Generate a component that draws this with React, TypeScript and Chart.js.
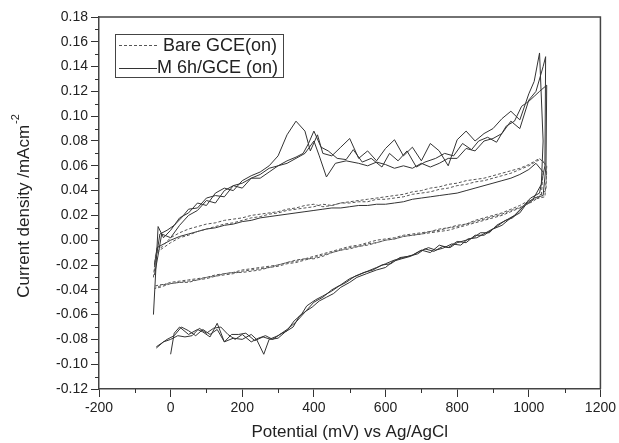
import React, { useEffect, useRef } from "react";
import { Chart, registerables } from "chart.js";

Chart.register(...registerables);

const FONT = "'Liberation Sans', Arial, Helvetica, sans-serif";

const xTitle = "Potential (mV) vs Ag/AgCl";
const yTitleMain = "Current density /mAcm";
const yTitleSup = "-2";
const legendLabels = ["Bare GCE(on)", "M 6h/GCE (on)"];

const xMin = -200;
const xMax = 1200;
const xStep = 200;
const yMin = -0.12;
const yMax = 0.18;
const yStep = 0.02;

type P = [number, number];

// Bare GCE, cycle 1 (dashed)
const bareCycle1: P[] = [
  [-48, -0.030], [-42, -0.012], [-30, -0.008], [0, -0.002], [25, 0.002], [50, 0.004], [75, 0.007],
  [100, 0.009], [125, 0.011], [150, 0.013], [175, 0.014], [200, 0.016], [225, 0.018], [250, 0.019],
  [275, 0.021], [300, 0.022], [325, 0.024], [350, 0.025], [375, 0.026], [400, 0.027], [425, 0.029],
  [450, 0.028], [475, 0.030], [500, 0.030], [525, 0.031], [550, 0.031], [575, 0.033], [600, 0.033],
  [625, 0.034], [650, 0.035], [675, 0.037], [700, 0.038], [725, 0.039], [750, 0.041], [775, 0.042],
  [800, 0.044], [825, 0.045], [850, 0.047], [875, 0.048], [900, 0.050], [925, 0.052], [950, 0.054],
  [975, 0.057], [1000, 0.060], [1030, 0.065], [1045, 0.063], [1050, 0.055], [1045, 0.035],
  [1000, 0.032], [975, 0.028], [950, 0.025], [925, 0.022], [900, 0.020], [875, 0.018], [850, 0.016],
  [825, 0.013], [800, 0.011], [775, 0.010], [750, 0.008], [725, 0.007], [700, 0.006], [675, 0.005],
  [650, 0.004], [625, 0.002], [600, 0.001], [575, 0.000], [550, -0.002], [525, -0.004], [500, -0.005],
  [475, -0.007], [450, -0.009], [425, -0.011], [400, -0.013], [375, -0.015], [350, -0.017],
  [325, -0.018], [300, -0.020], [275, -0.021], [250, -0.022], [225, -0.023], [200, -0.024],
  [175, -0.026], [150, -0.027], [125, -0.028], [100, -0.030], [75, -0.031], [50, -0.032],
  [25, -0.033], [0, -0.034], [-30, -0.037], [-42, -0.038],
];

// Bare GCE, cycle 2 (dashed)
const bareCycle2: P[] = [
  [-45, -0.025], [-40, -0.010], [-20, -0.004], [0, 0.002], [25, 0.006], [50, 0.009], [75, 0.011],
  [100, 0.013], [125, 0.014], [150, 0.016], [175, 0.017], [200, 0.018], [225, 0.020], [250, 0.021],
  [275, 0.022], [300, 0.023], [325, 0.025], [350, 0.026], [375, 0.028], [400, 0.029], [425, 0.027],
  [450, 0.028], [475, 0.030], [500, 0.031], [525, 0.032], [550, 0.033], [575, 0.034], [600, 0.035],
  [625, 0.036], [650, 0.037], [675, 0.039], [700, 0.040], [725, 0.042], [750, 0.043], [775, 0.045],
  [800, 0.046], [825, 0.048], [850, 0.049], [875, 0.050], [900, 0.052], [925, 0.054], [950, 0.056],
  [975, 0.058], [1000, 0.061], [1030, 0.066], [1050, 0.060], [1048, 0.040],
  [1000, 0.030], [975, 0.026], [950, 0.023], [925, 0.020], [900, 0.018], [875, 0.016], [850, 0.014],
  [825, 0.012], [800, 0.010], [775, 0.008], [750, 0.007], [725, 0.006], [700, 0.005], [675, 0.004],
  [650, 0.003], [625, 0.001], [600, 0.000], [575, -0.002], [550, -0.003], [525, -0.005], [500, -0.006],
  [475, -0.008], [450, -0.010], [425, -0.012], [400, -0.014], [375, -0.016], [350, -0.018],
  [325, -0.019], [300, -0.021], [275, -0.022], [250, -0.023], [225, -0.024], [200, -0.025],
  [175, -0.027], [150, -0.028], [125, -0.029], [100, -0.031], [75, -0.032], [50, -0.033],
  [25, -0.034], [0, -0.035], [-30, -0.038], [-45, -0.039],
];

// Bare GCE, cycle 3: forward sweep drawn solid, reverse sweep dashed
const bareCycle3Forward: P[] = [
  [-45, -0.020], [-38, -0.006], [0, 0.000], [25, 0.003], [50, 0.005], [75, 0.007], [100, 0.009],
  [125, 0.010], [150, 0.012], [175, 0.013], [200, 0.015], [225, 0.016], [250, 0.018], [275, 0.019],
  [300, 0.020], [325, 0.021], [350, 0.022], [375, 0.023], [400, 0.024], [425, 0.025], [450, 0.026],
  [475, 0.026], [500, 0.027], [525, 0.028], [550, 0.028], [575, 0.029], [600, 0.029], [625, 0.030],
  [650, 0.031], [675, 0.033], [700, 0.034], [725, 0.035], [750, 0.036], [775, 0.037], [800, 0.038],
  [825, 0.040], [850, 0.042], [875, 0.044], [900, 0.046], [925, 0.048], [950, 0.050], [975, 0.053],
  [1000, 0.057], [1020, 0.062], [1040, 0.055],
];
const bareCycle3Reverse: P[] = [
  [1040, 0.055], [1035, 0.036], [1010, 0.031], [980, 0.027], [950, 0.024], [925, 0.021], [900, 0.019],
  [875, 0.017], [850, 0.015], [825, 0.013], [800, 0.012], [775, 0.010], [750, 0.009], [725, 0.007],
  [700, 0.005], [675, 0.004], [650, 0.003], [625, 0.001], [600, 0.000], [575, -0.002], [550, -0.004],
  [525, -0.005], [500, -0.007], [475, -0.008], [450, -0.010], [425, -0.013], [400, -0.015],
  [375, -0.015], [350, -0.016], [325, -0.018], [300, -0.020], [275, -0.022], [250, -0.024],
  [225, -0.025], [200, -0.026], [175, -0.026], [150, -0.027], [125, -0.029], [100, -0.030],
  [75, -0.032], [50, -0.034], [25, -0.034], [0, -0.035], [-30, -0.036], [-45, -0.037],
];

// M 6h/GCE, cycle 1 (solid)
const m6hCycle1: P[] = [
  [-48, -0.060], [-35, 0.011], [-20, 0.002], [0, 0.008], [25, 0.018], [50, 0.022], [75, 0.030],
  [100, 0.028], [125, 0.038], [150, 0.042], [175, 0.040], [200, 0.048], [225, 0.052], [250, 0.055],
  [275, 0.060], [300, 0.068], [325, 0.085], [350, 0.096], [375, 0.088], [390, 0.072], [410, 0.085],
  [425, 0.070], [450, 0.068], [475, 0.075], [500, 0.082], [525, 0.066], [550, 0.072], [575, 0.064],
  [600, 0.074], [625, 0.081], [650, 0.068], [675, 0.075], [700, 0.064], [725, 0.078], [750, 0.072],
  [775, 0.060], [800, 0.081], [825, 0.088], [850, 0.080], [875, 0.086], [900, 0.090], [925, 0.098],
  [950, 0.104], [975, 0.097], [1000, 0.118], [1015, 0.128], [1030, 0.151], [1040, 0.080],
  [1035, 0.045], [1010, 0.032], [990, 0.028], [975, 0.022], [950, 0.018], [925, 0.012], [900, 0.009],
  [875, 0.004], [850, 0.004], [825, -0.002], [800, -0.001], [775, -0.006], [750, -0.004],
  [725, -0.010], [700, -0.008], [675, -0.012], [650, -0.014], [625, -0.016], [600, -0.019],
  [575, -0.022], [550, -0.025], [525, -0.028], [500, -0.031], [475, -0.036], [450, -0.040],
  [425, -0.046], [400, -0.050], [375, -0.058], [350, -0.066], [325, -0.072], [300, -0.077],
  [275, -0.080], [260, -0.092], [240, -0.080], [225, -0.076], [200, -0.080], [175, -0.079],
  [150, -0.082], [130, -0.067], [110, -0.078], [90, -0.074], [75, -0.072], [50, -0.076],
  [25, -0.070], [10, -0.075], [0, -0.092],
];

// M 6h/GCE, cycle 2 (solid)
const m6hCycle2: P[] = [
  [-45, -0.028], [-35, -0.012], [-25, 0.005], [0, 0.002], [25, 0.012], [50, 0.020], [75, 0.024],
  [100, 0.032], [125, 0.030], [150, 0.040], [175, 0.044], [200, 0.046], [225, 0.050], [250, 0.053],
  [275, 0.058], [300, 0.060], [325, 0.062], [350, 0.066], [375, 0.070], [400, 0.080], [415, 0.068],
  [435, 0.051], [460, 0.062], [490, 0.064], [525, 0.062], [550, 0.060], [575, 0.063], [600, 0.061],
  [625, 0.058], [650, 0.060], [675, 0.058], [700, 0.062], [725, 0.059], [750, 0.062], [775, 0.066],
  [800, 0.066], [825, 0.074], [850, 0.072], [875, 0.080], [900, 0.082], [925, 0.086], [950, 0.096],
  [975, 0.090], [1000, 0.113], [1020, 0.120], [1040, 0.140], [1047, 0.148], [1045, 0.060],
  [1030, 0.038], [1005, 0.034], [980, 0.026], [960, 0.020], [930, 0.015], [905, 0.010], [880, 0.006],
  [855, 0.002], [830, 0.001], [810, -0.004], [785, -0.003], [760, -0.0065], [740, -0.008],
  [720, -0.006], [695, -0.009], [670, -0.013], [645, -0.015], [621, -0.017], [600, -0.022],
  [575, -0.024], [547, -0.027], [520, -0.030], [500, -0.034], [475, -0.038], [455, -0.043],
  [435, -0.046], [415, -0.049], [395, -0.054], [379, -0.057], [360, -0.061], [342, -0.070],
  [320, -0.074], [300, -0.079], [280, -0.080], [258, -0.078], [235, -0.081], [210, -0.075],
  [190, -0.076], [170, -0.076], [150, -0.082], [130, -0.072], [110, -0.076], [90, -0.072],
  [70, -0.077], [50, -0.073], [30, -0.070], [10, -0.077], [-10, -0.080], [-25, -0.083], [-40, -0.086],
];

// M 6h/GCE, cycle 3 (solid)
const m6hCycle3: P[] = [
  [-45, -0.020], [-38, -0.010], [-30, 0.005], [-10, 0.008], [10, 0.012], [30, 0.018], [50, 0.025],
  [75, 0.026], [100, 0.034], [125, 0.036], [150, 0.035], [175, 0.044], [200, 0.042], [225, 0.050],
  [250, 0.050], [275, 0.055], [300, 0.060], [325, 0.064], [350, 0.067], [370, 0.070], [385, 0.078],
  [400, 0.088], [420, 0.075], [440, 0.072], [465, 0.066], [490, 0.065], [510, 0.073], [535, 0.063],
  [560, 0.066], [590, 0.059], [611, 0.070], [635, 0.064], [660, 0.072], [686, 0.059], [710, 0.063],
  [740, 0.066], [765, 0.070], [790, 0.068], [815, 0.078], [840, 0.073], [860, 0.080], [885, 0.083],
  [910, 0.079], [937, 0.092], [960, 0.096], [980, 0.108], [1000, 0.112], [1015, 0.116],
  [1030, 0.120], [1050, 0.125], [1048, 0.060], [1040, 0.036], [1015, 0.034], [995, 0.030],
  [975, 0.024], [955, 0.018], [935, 0.016], [910, 0.012], [890, 0.006], [865, 0.006], [845, 0.002],
  [825, 0.000], [800, -0.002], [780, -0.006], [760, -0.005], [735, -0.009], [710, -0.007],
  [690, -0.011], [665, -0.013], [640, -0.014], [615, -0.019], [590, -0.020], [565, -0.024],
  [540, -0.026], [515, -0.029], [490, -0.034], [470, -0.037], [450, -0.041], [425, -0.045],
  [405, -0.048], [380, -0.053], [365, -0.060], [345, -0.065], [325, -0.073], [305, -0.076],
  [285, -0.080], [265, -0.077], [245, -0.079], [225, -0.082], [200, -0.076], [180, -0.080],
  [160, -0.076], [140, -0.070], [120, -0.071], [100, -0.075], [80, -0.071], [60, -0.077],
  [40, -0.078], [20, -0.077], [0, -0.080], [-20, -0.082], [-40, -0.087],
];

const LINE = "#333";
const DASH_COLOR = "#555";
const DASH = [3, 2];

const toXY = (pts: P[]) => pts.map(([x, y]) => ({ x, y }));

const overlayPlugin = {
  id: "overlay",
  afterDraw(chart: any) {
    const { ctx, chartArea, scales } = chart;
    const { left, right, top, bottom } = chartArea;
    const xs = scales.x;
    const ys = scales.y;
    ctx.save();
    // frame (top and right)
    ctx.strokeStyle = "#444";
    ctx.lineWidth = 1.5;
    ctx.setLineDash([]);
    ctx.beginPath();
    ctx.moveTo(left, top);
    ctx.lineTo(right, top);
    ctx.lineTo(right, bottom);
    ctx.stroke();

    // minor ticks
    ctx.lineWidth = 1;
    ctx.strokeStyle = "#333";
    ctx.beginPath();
    for (let v = xMin + xStep / 2; v < xMax; v += xStep) {
      const px = Math.round(xs.getPixelForValue(v)) + 0.5;
      ctx.moveTo(px, bottom);
      ctx.lineTo(px, bottom + 4);
    }
    for (let i = 0; i < (yMax - yMin) / yStep; i++) {
      const v = yMin + yStep * i + yStep / 2;
      const py = Math.round(ys.getPixelForValue(v)) + 0.5;
      ctx.moveTo(left, py);
      ctx.lineTo(left - 4, py);
    }
    ctx.stroke();

    // legend
    const bx = 115.5, by = 34.5, bw = 168, bh = 43;
    ctx.strokeStyle = "#444";
    ctx.lineWidth = 1;
    ctx.strokeRect(bx, by, bw, bh);
    ctx.font = `18px ${FONT}`;
    ctx.fillStyle = "#222";
    ctx.textBaseline = "middle";
    ctx.textAlign = "left";
    // dashed sample
    ctx.strokeStyle = DASH_COLOR;
    ctx.setLineDash(DASH);
    ctx.beginPath();
    ctx.moveTo(119, 45.5);
    ctx.lineTo(158, 45.5);
    ctx.stroke();
    ctx.setLineDash([]);
    ctx.fillText(legendLabels[0], 163, 46);
    ctx.strokeStyle = LINE;
    ctx.beginPath();
    ctx.moveTo(119, 68.5);
    ctx.lineTo(157, 68.5);
    ctx.stroke();
    ctx.fillText(legendLabels[1], 157, 68);

    // y-axis title with superscript
    ctx.translate(24, 206);
    ctx.rotate(-Math.PI / 2);
    ctx.font = `17px ${FONT}`;
    const mainW = ctx.measureText(yTitleMain).width;
    ctx.font = `11px ${FONT}`;
    const supW = ctx.measureText(yTitleSup).width;
    const total = mainW + supW + 1;
    const start = -total / 2;
    ctx.font = `17px ${FONT}`;
    ctx.fillText(yTitleMain, start, 0);
    ctx.font = `11px ${FONT}`;
    ctx.fillText(yTitleSup, start + mainW + 1, -8);
    ctx.restore();
  },
};

export default function App() {
  const canvasRef = useRef<HTMLCanvasElement | null>(null);

  useEffect(() => {
    if (!canvasRef.current) return;
    const dashed = (pts: P[]) => ({
      data: toXY(pts),
      borderColor: DASH_COLOR,
      borderWidth: 1,
      borderDash: DASH,
      pointRadius: 0,
      fill: false,
      tension: 0,
    });
    const solid = (pts: P[]) => ({
      data: toXY(pts),
      borderColor: LINE,
      borderWidth: 1,
      pointRadius: 0,
      fill: false,
      tension: 0,
    });
    const chart = new Chart(canvasRef.current, {
      type: "line",
      data: {
        datasets: [
          { label: legendLabels[0], ...dashed(bareCycle1) },
          { label: legendLabels[0] + " 2", ...dashed(bareCycle2) },
          { label: legendLabels[0] + " 3a", ...solid(bareCycle3Forward) },
          { label: legendLabels[0] + " 3b", ...dashed(bareCycle3Reverse) },
          { label: legendLabels[1], ...solid(m6hCycle1) },
          { label: legendLabels[1] + " 2", ...solid(m6hCycle2) },
          { label: legendLabels[1] + " 3", ...solid(m6hCycle3) },
        ] as any,
      },
      options: {
        animation: false,
        responsive: true,
        maintainAspectRatio: false,
        layout: { padding: { left: 0, top: 17, right: 18, bottom: 0 }, autoPadding: false } as any,
        plugins: {
          legend: { display: false },
          tooltip: { enabled: false },
        },
        scales: {
          x: {
            type: "linear",
            min: xMin,
            max: xMax,
            ticks: {
              stepSize: xStep,
              color: "#222",
              font: { family: FONT, size: 14 },
              padding: 3,
              maxRotation: 0,
              callback: (v: any) => String(Math.round(Number(v))),
            },
            grid: { drawOnChartArea: false, drawTicks: true, tickLength: 8, tickColor: "#333", tickWidth: 1 },
            border: { display: true, color: "#444", width: 1.5 },
            title: {
              display: true,
              text: xTitle,
              color: "#222",
              font: { family: FONT, size: 17 },
              padding: { top: 0, bottom: 0 },
            },
            afterFit: (scale: any) => {
              scale.height = 54;
            },
          },
          y: {
            type: "linear",
            min: yMin,
            max: yMax,
            ticks: {
              stepSize: yStep,
              color: "#222",
              font: { family: FONT, size: 14 },
              padding: 3,
              callback: (v: any) => {
                const n = Number(v);
                return Math.abs(n) < 1e-9 ? "0.00" : n.toFixed(2);
              },
            },
            grid: { drawOnChartArea: false, drawTicks: true, tickLength: 8, tickColor: "#333", tickWidth: 1 },
            border: { display: true, color: "#444", width: 1.5 },
            afterFit: (scale: any) => {
              scale.width = 99;
            },
          },
        },
      },
      plugins: [overlayPlugin],
    });
    return () => chart.destroy();
  }, []);

  return (
    <div style={{ position: "fixed", left: 0, top: 0, width: 619, height: 443, background: "#fff" }}>
      <canvas ref={canvasRef} />
    </div>
  );
}
